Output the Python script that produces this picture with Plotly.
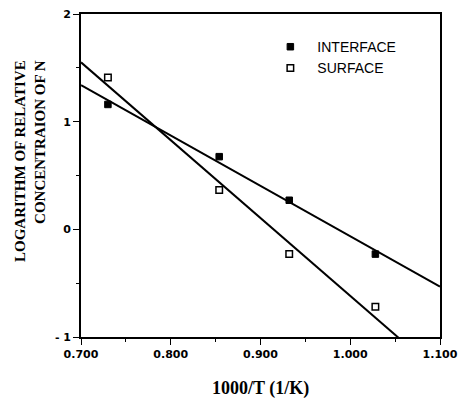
import numpy as np
import plotly.graph_objects as go

# Measured points: 1000/T (1/K) vs log of relative N concentration
inv_temp = [0.730, 0.854, 0.932, 1.028]
interface_log = [1.16, 0.675, 0.27, -0.23]
surface_log = [1.41, 0.365, -0.23, -0.72]

x_ticks = [0.7, 0.8, 0.9, 1.0, 1.1]
x_ticktext = ["0.700", "0.800", "0.900", "1.000", "1.100"]
y_ticks = [-1, 0, 1, 2]
y_ticktext = ["- 1", "0", "1", "2"]

# Least-squares lines through each series, drawn across the x range
x_line = np.array([0.7, 1.1])
fit_interface = np.polyfit(inv_temp, interface_log, 1)
fit_surface = np.polyfit(inv_temp, surface_log, 1)

fig = go.Figure()
line_style = dict(color="black", width=2)
fig.add_trace(go.Scatter(x=x_line, y=np.polyval(fit_interface, x_line), mode="lines",
                         line=line_style, showlegend=False, hoverinfo="skip"))
fig.add_trace(go.Scatter(x=x_line, y=np.polyval(fit_surface, x_line), mode="lines",
                         line=line_style, showlegend=False, hoverinfo="skip"))
fig.add_trace(go.Scatter(x=inv_temp, y=interface_log, mode="markers", name="INTERFACE",
                         marker=dict(symbol="square", size=6.5, color="black",
                                     line=dict(color="black", width=1))))
fig.add_trace(go.Scatter(x=inv_temp, y=surface_log, mode="markers", name="SURFACE",
                         marker=dict(symbol="square-open", size=6.5, color="black",
                                     line=dict(color="black", width=1.5))))

tick_font = dict(family="DejaVu Sans", size=11, color="black", weight="bold")
axis_common = dict(showline=True, linecolor="black", linewidth=1.6, mirror=True,
                   ticks="outside", tickcolor="black", tickwidth=1.4, ticklen=6,
                   showgrid=False, zeroline=False, tickfont=tick_font)

fig.update_xaxes(range=[0.7, 1.1], tickvals=x_ticks, ticktext=x_ticktext,
                 minor=dict(dtick=0.05, ticks="outside", ticklen=3, tickcolor="black",
                            tickwidth=1.2, showgrid=False),
                 **axis_common)
fig.update_yaxes(range=[-1, 2], tickvals=y_ticks, ticktext=y_ticktext,
                 minor=dict(dtick=0.5, ticks="outside", ticklen=3, tickcolor="black",
                            tickwidth=1.2, showgrid=False),
                 **axis_common)

title_font = dict(family="Liberation Serif", size=15, color="black", weight="bold")
fig.add_annotation(text="LOGARITHM OF RELATIVE<br>CONCENTRAION OF N",
                   xref="paper", yref="paper", x=-0.142, y=0.545,
                   xanchor="center", yanchor="middle", textangle=-90, align="right",
                   showarrow=False, font=title_font)
fig.add_annotation(text="1000/T (1/K)", xref="paper", yref="paper", x=0.5, y=-0.158,
                   xanchor="center", yanchor="middle", showarrow=False,
                   font=dict(family="Liberation Serif", size=18, color="black", weight="bold"))

fig.update_layout(
    width=466, height=402,
    margin=dict(l=81, r=19, t=8, b=65),
    paper_bgcolor="white", plot_bgcolor="white",
    legend=dict(x=0.508, y=0.947, xanchor="left", yanchor="top",
                bgcolor="rgba(0,0,0,0)", borderwidth=0, itemwidth=44,
                font=dict(family="Liberation Sans", size=14, color="black"),
                tracegroupgap=0),
)

fig.write_html("out.html")
